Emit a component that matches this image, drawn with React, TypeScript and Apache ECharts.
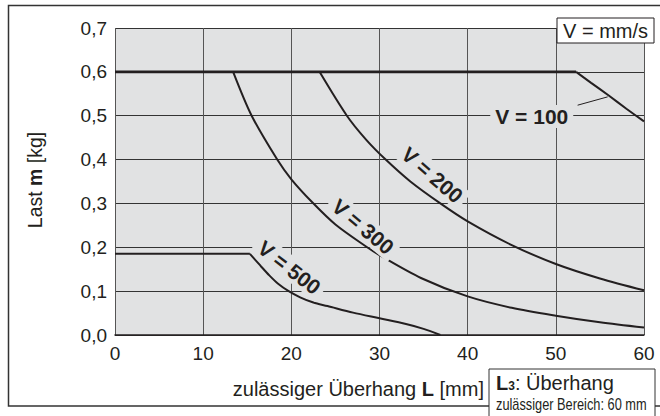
import React, { useEffect, useRef } from 'react';
import * as echarts from 'echarts';

// Overhang L [mm] vs permissible load m [kg]
const xTicks = [0, 10, 20, 30, 40, 50, 60];
const yTicks = [0, 0.1, 0.2, 0.3, 0.4, 0.5, 0.6, 0.7];

const plateauHigh = [[0, 0.6], [52.3, 0.6]];
const plateauV500 = [[0, 0.185], [15.3, 0.185]];

const curveV100 = [[52.3, 0.6], [54, 0.575], [56, 0.546], [58, 0.516], [60, 0.487]];
const curveV200 = [[23.2, 0.6], [26.3, 0.5], [28.5, 0.445], [30.7, 0.4], [33.5, 0.35], [36.9, 0.3], [40, 0.259], [45, 0.205], [50, 0.162], [55, 0.129], [60, 0.102]];
const curveV300 = [[13.4, 0.6], [15.5, 0.5], [18.4, 0.4], [20, 0.355], [22.4, 0.302], [25, 0.252], [28.6, 0.2], [30, 0.182], [34.7, 0.13], [40, 0.088], [45, 0.062], [50, 0.044], [55, 0.029], [60, 0.017]];
const curveV500 = [[15.3, 0.185], [16.5, 0.158], [17.5, 0.136], [18.5, 0.117], [19.7, 0.1], [21, 0.086], [22.5, 0.074], [24.1, 0.066], [27, 0.051], [30, 0.038], [33, 0.025], [35, 0.014], [36.9, 0]];

const curveLabels = ['V = 100', 'V = 200', 'V = 300', 'V = 500'];
const labelAnchors = [[47.27, 0.498], [35.99, 0.365], [28.13, 0.247], [19.77, 0.154]];
const labelRotations = [0, -0.71, -0.7, -0.66];
const leaderV100 = [[52.47, 0.524], [55.88, 0.543]];

const FONT = 'Liberation Sans, Arial, Helvetica, sans-serif';
const INK = '#231f20';
const PLOT_BG = '#e1e2e3';

export default function App() {
  const ref = useRef<HTMLDivElement>(null);
  useEffect(() => {
    if (!ref.current) return;
    const chart = echarts.init(ref.current, null, { renderer: 'svg' });
    const lineSeries = (data: number[][], width: number, smooth: boolean) => ({
      type: 'line',
      data,
      symbol: 'none',
      smooth: smooth ? 0.3 : false,
      lineStyle: { color: INK, width },
      z: 3,
      silent: true,
    });
    chart.setOption({
      animation: false,
      backgroundColor: '#ffffff',
      textStyle: { fontFamily: FONT, color: INK },
      grid: { left: 115, right: 16, top: 28, bottom: 81, show: true, backgroundColor: PLOT_BG, borderWidth: 0 },
      xAxis: {
        type: 'value', min: xTicks[0], max: xTicks[xTicks.length - 1], interval: 10,
        axisLine: { show: true, lineStyle: { color: INK, width: 1.5 } },
        axisTick: { show: false },
        axisLabel: { fontSize: 19, color: INK, margin: 9, fontFamily: FONT },
        splitLine: { show: true, lineStyle: { color: '#555', width: 1 } },
      },
      yAxis: {
        type: 'value', min: yTicks[0], max: yTicks[yTicks.length - 1], interval: 0.1,
        axisLine: { show: false },
        axisTick: { show: false },
        axisLabel: { fontSize: 19, color: INK, margin: 8, fontFamily: FONT, formatter: (v: number) => v.toFixed(1).replace('.', ',') },
        splitLine: { show: true, lineStyle: { color: '#333', width: 1 } },
      },
      series: [
        lineSeries(plateauHigh, 2.6, false),
        lineSeries(plateauV500, 2, false),
        lineSeries(curveV100, 2, true),
        lineSeries(curveV200, 2, true),
        lineSeries(curveV300, 2, true),
        lineSeries(curveV500, 2, true),
      ],
    });

    const toPx = (p: number[]) => chart.convertToPixel({ gridIndex: 0 }, p) as number[];
    const graphics: any[] = [];
    curveLabels.forEach((t, i) => {
      const [px, py] = toPx(labelAnchors[i]);
      graphics.push({
        type: 'text', x: px, y: py, rotation: labelRotations[i], z: 10,
        style: { text: t, fontFamily: FONT, fontWeight: 'bold', fontSize: 21, fill: INK, align: 'center', verticalAlign: 'middle', backgroundColor: PLOT_BG, padding: [1, 5] },
      });
    });
    const a = toPx(leaderV100[0]);
    const b = toPx(leaderV100[1]);
    graphics.push({ type: 'line', z: 10, shape: { x1: a[0], y1: a[1], x2: b[0], y2: b[1] }, style: { stroke: INK, lineWidth: 1 } });

    // outer frame
    graphics.push({ type: 'rect', z: 0, shape: { x: 8.5, y: 5.5, width: 700, height: 400.5 }, style: { fill: 'none', stroke: '#333', lineWidth: 1.5 } });
    // units box
    graphics.push({ type: 'rect', z: 10, shape: { x: 557, y: 18, width: 97, height: 25 }, style: { fill: '#fff', stroke: INK, lineWidth: 1 } });
    graphics.push({ type: 'text', z: 11, x: 605.5, y: 31, style: { text: 'V = mm/s', fontFamily: FONT, fontSize: 20, fill: INK, align: 'center', verticalAlign: 'middle' } });
    // axis names
    graphics.push({
      type: 'text', z: 10, x: 35, y: 180, rotation: Math.PI / 2,
      style: {
        text: '{n|Last }{b|m}{n| [kg]}', align: 'center', verticalAlign: 'middle',
        rich: { n: { fontFamily: FONT, fontSize: 19.5, fill: INK }, b: { fontFamily: FONT, fontWeight: 'bold', fontSize: 19.5, fill: INK } },
      },
    });
    graphics.push({
      type: 'text', z: 10, x: 484, y: 389,
      style: {
        text: '{n|zulässiger Überhang }{b|L}{n| [mm]}', align: 'right', verticalAlign: 'middle',
        rich: { n: { fontFamily: FONT, fontSize: 20, fill: INK }, b: { fontFamily: FONT, fontWeight: 'bold', fontSize: 20, fill: INK } },
      },
    });
    // note box
    graphics.push({ type: 'rect', z: 10, shape: { x: 489, y: 369, width: 166, height: 60 }, style: { fill: '#fff', stroke: '#333', lineWidth: 1 } });
    graphics.push({
      type: 'text', z: 11, x: 496, y: 383,
      style: {
        text: '{b|L}{s|3}{n|: Überhang}', align: 'left', verticalAlign: 'middle',
        rich: {
          b: { fontFamily: FONT, fontWeight: 'bold', fontSize: 20, fill: INK },
          s: { fontFamily: FONT, fontWeight: 'bold', fontSize: 12, fill: INK, padding: [6, 0, 0, 0] },
          n: { fontFamily: FONT, fontSize: 20, fill: INK },
        },
      },
    });
    graphics.push({
      type: 'text', z: 11, x: 496, y: 404, scaleX: 0.8,
      style: { text: 'zulässiger Bereich: 60 mm', fontFamily: FONT, fontSize: 16, fill: INK, align: 'left', verticalAlign: 'middle' },
    });
    chart.setOption({ graphic: graphics });
    return () => chart.dispose();
  }, []);
  return <div ref={ref} style={{ position: 'fixed', left: 0, top: 0, width: 660, height: 416 }} />;
}
